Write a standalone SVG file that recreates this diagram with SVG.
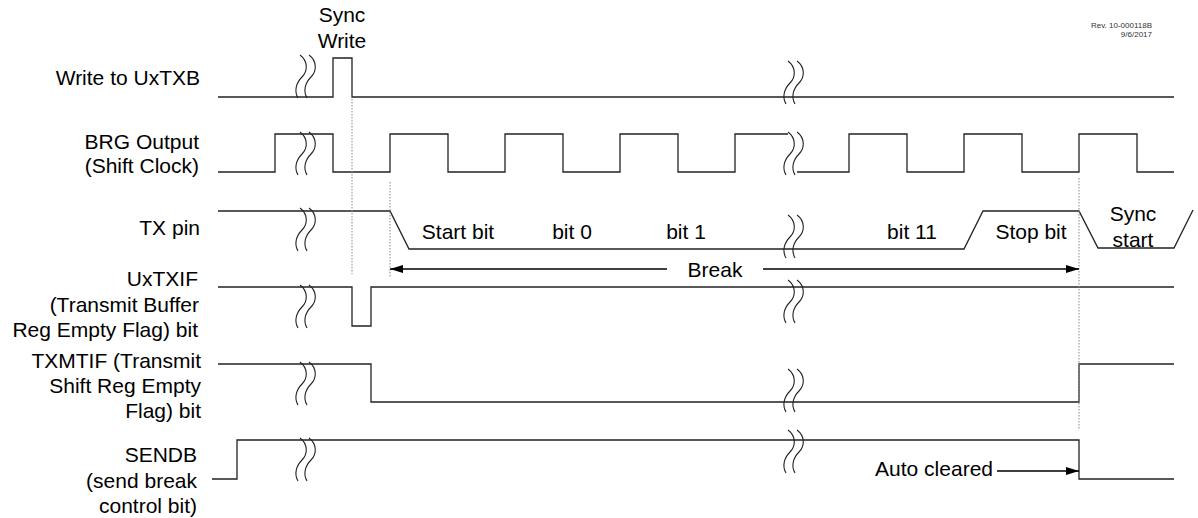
<svg xmlns="http://www.w3.org/2000/svg" width="1198" height="518" viewBox="0 0 1198 518">
<style>
text{font-family:"Liberation Sans",Arial,sans-serif;font-size:21px;fill:#000}
.lbl{text-anchor:end}
.mid{text-anchor:middle}
.small{font-size:8px;text-anchor:end;fill:#333}
.w{fill:none;stroke:#222;stroke-width:1.3}
.sq{fill:none;stroke:#222;stroke-width:1.1}
.dot{stroke:#888;stroke-width:1;stroke-dasharray:1.5,1.5;fill:none}
.arr{stroke:#000;stroke-width:1.3;fill:none}
</style>
<defs>
<path id="s" d="M0,0 C8,6 8,16 2,22 C-4,28 -6,36 -2,43"/>
<marker id="ah" markerWidth="13" markerHeight="8" refX="13" refY="4" orient="auto" markerUnits="userSpaceOnUse"><path d="M0,0 L13,4 L0,8 Z" fill="#000"/></marker>
</defs>
<rect width="1198" height="518" fill="#fff"/>

<g id="header">
<text class="mid" x="342" y="22">Sync</text>
<text class="mid" x="342" y="48">Write</text>
<text class="small" x="1152" y="28">Rev. 10-000118B</text>
<text class="small" x="1152" y="37">9/6/2017</text>
</g>

<g id="write-uxtxb">
<text class="lbl" x="200" y="85">Write to UxTXB</text>
<path class="w" d="M218,97 H333 V58 H352 V97 H1174"/>
<g class="sq"><use href="#s" x="300" y="55"/><use href="#s" x="309" y="55"/><use href="#s" x="788" y="61"/><use href="#s" x="797" y="61"/></g>
</g>

<g id="brg-output">
<text class="lbl" x="199" y="149">BRG Output</text>
<text class="lbl" x="199" y="173">(Shift Clock)</text>
<path class="w" d="M218,172 H275 V134 H333 V172 H390 V134 H448 V172 H505 V134 H563 V172 H620 V134 H678 V172 H735 V134 H788"/>
<path class="w" d="M797,172 H849 V134 H907 V172 H964 V134 H1022 V172 H1079 V134 H1137 V172 H1174"/>
<g class="sq"><use href="#s" x="300" y="132"/><use href="#s" x="309" y="132"/><use href="#s" x="788" y="132"/><use href="#s" x="797" y="132"/></g>
</g>

<g id="tx-pin">
<text class="lbl" x="200" y="235">TX pin</text>
<path class="w" d="M218,211 H390 L409,249 H964 L983,211 H1079 L1098,248 H1174 L1193,210"/>
<g class="sq"><use href="#s" x="300" y="208"/><use href="#s" x="309" y="208"/><use href="#s" x="788" y="215"/><use href="#s" x="797" y="215"/></g>
<text class="mid" x="458" y="239">Start bit</text>
<text class="mid" x="572" y="239">bit 0</text>
<text class="mid" x="686" y="239">bit 1</text>
<text class="mid" x="912" y="239">bit 11</text>
<text class="mid" x="1031" y="239">Stop bit</text>
<text class="mid" x="1133" y="221">Sync</text>
<text class="mid" x="1133" y="247">start</text>
</g>

<g id="uxtxif">
<text class="lbl" x="198" y="286">UxTXIF</text>
<text class="lbl" x="199" y="312">(Transmit Buffer</text>
<text class="lbl" x="198" y="337">Reg Empty Flag) bit</text>
<path class="w" d="M218,287 H352 V326 H371 V287 H1174"/>
<g class="sq"><use href="#s" x="300" y="285"/><use href="#s" x="309" y="285"/><use href="#s" x="788" y="280"/><use href="#s" x="797" y="280"/></g>
</g>

<g id="txmtif">
<text class="lbl" x="201" y="368">TXMTIF (Transmit</text>
<text class="lbl" x="201" y="393">Shift Reg Empty</text>
<text class="lbl" x="201" y="418">Flag) bit</text>
<path class="w" d="M218,364 H371 V402 H1079 V364 H1174"/>
<g class="sq"><use href="#s" x="300" y="362"/><use href="#s" x="309" y="362"/><use href="#s" x="788" y="369"/><use href="#s" x="797" y="369"/></g>
</g>

<g id="sendb">
<text class="lbl" x="197" y="462">SENDB</text>
<text class="lbl" x="197" y="488">(send break</text>
<text class="lbl" x="197" y="513">control bit)</text>
<path class="w" d="M212,479 H237 V440 H1079 V479 H1174"/>
<g class="sq"><use href="#s" x="300" y="438"/><use href="#s" x="309" y="438"/><use href="#s" x="788" y="430"/><use href="#s" x="797" y="430"/></g>
<text class="lbl" x="993" y="476">Auto cleared</text>
</g>

<g id="connectors">
<line class="dot" x1="352" y1="99" x2="352" y2="274"/>
<line class="dot" x1="390" y1="182" x2="390" y2="277"/>
<line class="dot" x1="1079" y1="178" x2="1079" y2="430"/>
<line class="arr" x1="667" y1="269" x2="390" y2="269" marker-end="url(#ah)"/>
<line class="arr" x1="763" y1="269" x2="1079" y2="269" marker-end="url(#ah)"/>
<text class="mid" x="715" y="277">Break</text>
<line class="arr" x1="997" y1="471" x2="1079" y2="471" marker-end="url(#ah)"/>
</g>
</svg>
